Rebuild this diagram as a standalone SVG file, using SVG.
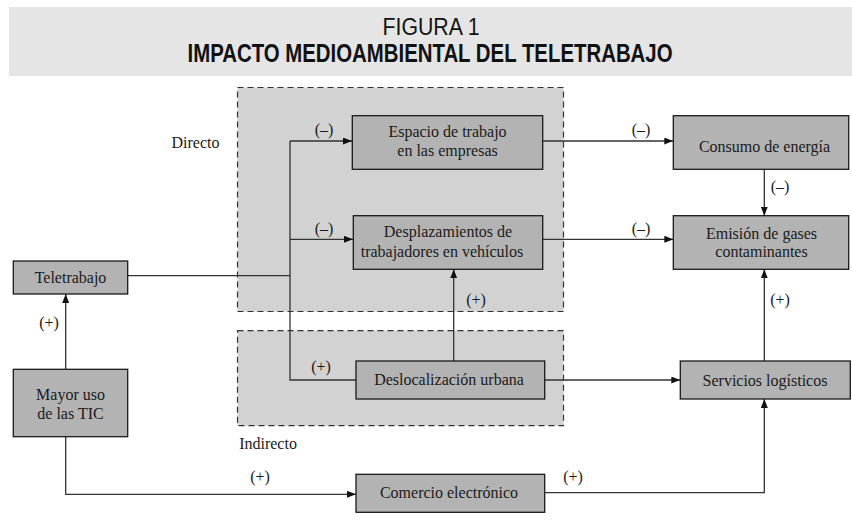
<svg xmlns="http://www.w3.org/2000/svg" width="852" height="524" viewBox="0 0 852 524">
<style>
.box{fill:#b3b3b3;stroke:#1a1a1a;stroke-width:1.3}
.zone{fill:#d2d2d2;stroke:#333;stroke-width:1.2;stroke-dasharray:6 4}
.t{font-family:"Liberation Serif","Times New Roman",serif;font-size:16px;fill:#1a1a1a;text-anchor:middle}
.lbl{font-family:"Liberation Serif","Times New Roman",serif;font-size:16px;fill:#1a1a1a;text-anchor:middle}
.ln{fill:none;stroke:#333;stroke-width:1.3}
.ar{marker-end:url(#ah)}
</style>
<defs>
<marker id="ah" markerUnits="userSpaceOnUse" markerWidth="9" markerHeight="7" refX="9" refY="3.5" orient="auto">
<path d="M0,0 L9,3.5 L0,7 z" fill="#111"/>
</marker>
</defs>
<rect width="852" height="524" fill="#fff"/>
<g id="header">
<rect x="9" y="7" width="843" height="69" fill="#e5e5e5"/>
<text x="431" y="35" font-family="'Liberation Sans',Arial,sans-serif" font-size="23" text-anchor="middle" textLength="97" lengthAdjust="spacingAndGlyphs" fill="#111">FIGURA 1</text>
<text x="430" y="62" font-family="'Liberation Sans',Arial,sans-serif" font-size="26" font-weight="bold" text-anchor="middle" textLength="485" lengthAdjust="spacingAndGlyphs" fill="#111">IMPACTO MEDIOAMBIENTAL DEL TELETRABAJO</text>
</g>
<g id="zona-directo">
<rect class="zone" x="237.5" y="87.5" width="326" height="224"/>
<text class="t" x="195.5" y="148">Directo</text>
</g>
<g id="zona-indirecto">
<rect class="zone" x="237.5" y="330.7" width="326" height="95"/>
<text class="t" x="268" y="449">Indirecto</text>
</g>
<g id="connectors">
<path class="ln" d="M128,275.7 H290"/>
<path class="ln" d="M290,141 V380 H356"/>
<path class="ln ar" d="M290,141 H352"/>
<path class="ln ar" d="M290,239.3 H353"/>
<path class="ln ar" d="M542.7,141 H673.3"/>
<path class="ln ar" d="M543,239.3 H673.3"/>
<path class="ln ar" d="M764.3,169.3 V215.7"/>
<path class="ln ar" d="M764.3,361 V269.3"/>
<path class="ln ar" d="M453.7,361 V269.3"/>
<path class="ln ar" d="M545,380 H680.3"/>
<path class="ln ar" d="M65.7,369.3 V294"/>
<path class="ln ar" d="M65.7,436.7 V494.3 H356"/>
<path class="ln ar" d="M545,492.7 H764.3 V399"/>
<text class="lbl" x="324" y="135">(–)</text>
<text class="lbl" x="324" y="234">(–)</text>
<text class="lbl" x="641" y="135">(–)</text>
<text class="lbl" x="641" y="234">(–)</text>
<text class="lbl" x="780" y="191.5">(–)</text>
<text class="lbl" x="476" y="305">(+)</text>
<text class="lbl" x="780" y="305">(+)</text>
<text class="lbl" x="49" y="328">(+)</text>
<text class="lbl" x="321" y="371.5">(+)</text>
<text class="lbl" x="260" y="481.5">(+)</text>
<text class="lbl" x="573" y="481.5">(+)</text>
</g>
<g id="teletrabajo">
<rect class="box" x="13.3" y="261" width="114.4" height="33"/>
<text class="t" x="70.5" y="282.5">Teletrabajo</text>
</g>
<g id="mayor-uso-tic">
<rect class="box" x="13.3" y="369.3" width="114.4" height="67.4"/>
<text class="t" x="70.5" y="400">Mayor uso</text>
<text class="t" x="70.5" y="419">de las TIC</text>
</g>
<g id="espacio-trabajo">
<rect class="box" x="352.3" y="115.7" width="190.4" height="53.6"/>
<text class="t" x="447.5" y="137.3">Espacio de trabajo</text>
<text class="t" x="447.5" y="156">en las empresas</text>
</g>
<g id="desplazamientos">
<rect class="box" x="353.3" y="215.7" width="189.4" height="53.6"/>
<text class="t" x="448" y="237.3">Desplazamientos de</text>
<text class="t" x="442" y="256.7">trabajadores en vehículos</text>
</g>
<g id="deslocalizacion">
<rect class="box" x="356" y="361" width="188.7" height="38"/>
<text class="t" x="449" y="385">Deslocalización urbana</text>
</g>
<g id="comercio">
<rect class="box" x="356" y="474.3" width="188.7" height="38"/>
<text class="t" x="449" y="498">Comercio electrónico</text>
</g>
<g id="consumo-energia">
<rect class="box" x="673.3" y="115.7" width="175.4" height="53.6"/>
<text class="t" x="764.5" y="151.7">Consumo de energía</text>
</g>
<g id="emision-gases">
<rect class="box" x="673.3" y="215.7" width="175.4" height="53.6"/>
<text class="t" x="761.5" y="239">Emisión de gases</text>
<text class="t" x="761.5" y="256.7">contaminantes</text>
</g>
<g id="servicios-logisticos">
<rect class="box" x="680.3" y="361" width="170" height="38"/>
<text class="t" x="765" y="385.7">Servicios logísticos</text>
</g>
</svg>
